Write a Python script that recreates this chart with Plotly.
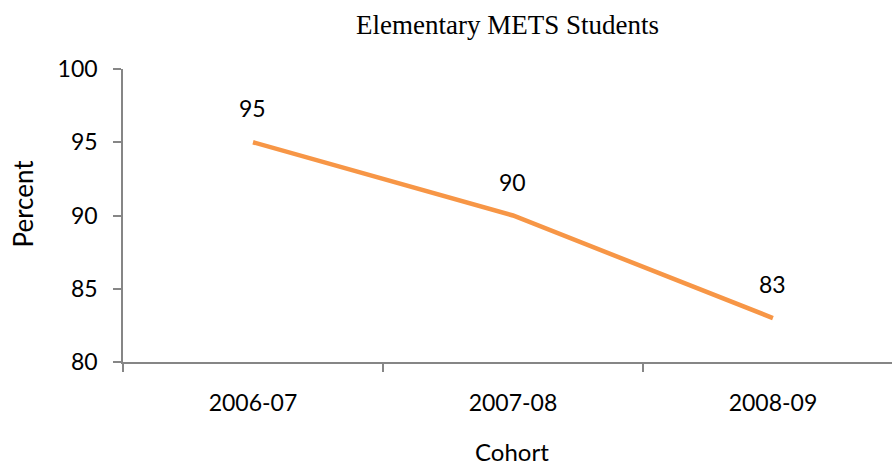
import plotly.graph_objects as go

cohorts = ["2006-07", "2007-08", "2008-09"]
percent = [95, 90, 83]

LINE_COLOR = "#F79646"
AXIS_COLOR = "#868686"
FONT = "Lato, 'Open Sans', sans-serif"

fig = go.Figure()
fig.add_trace(go.Scatter(
    x=cohorts, y=percent, mode="lines",
    line=dict(color=LINE_COLOR, width=4.5),
    hoverinfo="x+y", showlegend=False,
))

# value labels above each point
for c, v in zip(cohorts, percent):
    fig.add_annotation(x=c, y=v, text=str(v), showarrow=False,
                       yshift=34, font=dict(family=FONT, size=23, color="#000000"))

# axis titles placed as annotations for exact positioning
fig.add_annotation(text="Cohort", xref="paper", yref="paper", x=0.5, y=0,
                   xshift=4, yshift=-89, xanchor="center", yanchor="middle",
                   showarrow=False, font=dict(family=FONT, size=24, color="#000000"))
fig.add_annotation(text="Percent", xref="paper", yref="paper", x=0, y=0.5,
                   xshift=-101, yshift=12, xanchor="center", yanchor="middle",
                   textangle=-90, showarrow=False,
                   font=dict(family=FONT, size=26, color="#000000"))

fig.update_layout(
    width=892, height=467,
    margin=dict(l=123, r=0, t=69, b=105),
    paper_bgcolor="white", plot_bgcolor="white",
    font=dict(family=FONT, size=23, color="#000000"),
    title=dict(text="Elementary METS Students", x=0.5, xref="paper",
               y=0.948, yanchor="middle",
               font=dict(family="'Liberation Serif', 'Times New Roman', serif", size=27)),
)

fig.update_xaxes(
    type="category", range=[-0.5, 2.458],
    showline=True, linecolor=AXIS_COLOR, linewidth=1.5,
    ticks="outside", tickson="boundaries", ticklen=8, tickcolor=AXIS_COLOR, tickwidth=1.5,
    ticklabelstandoff=20,
    showgrid=False, zeroline=False,
)
fig.update_yaxes(
    range=[80, 100], tickvals=[80, 85, 90, 95, 100],
    showline=True, linecolor=AXIS_COLOR, linewidth=1.5,
    ticks="outside", ticklen=8, tickcolor=AXIS_COLOR, tickwidth=1.5,
    ticklabelstandoff=11,
    showgrid=False, zeroline=False,
)

fig.write_html("out.html")
